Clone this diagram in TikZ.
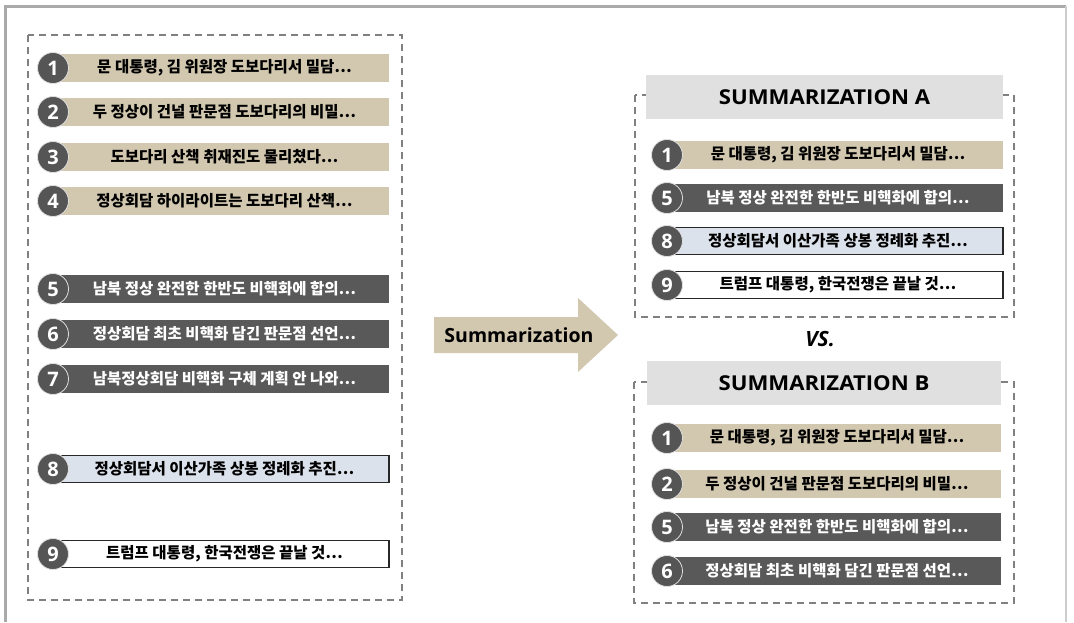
\documentclass[tikz,border=0pt]{standalone}
\usepackage{fontspec}
\setmainfont{Open Sans}
\newfontfamily\kr{Noto Sans CJK KR}
\newfontfamily\lat{Open Sans}
\newfontfamily\latw{Open Sans}[FakeStretch=1.08]
\definecolor{tan}{RGB}{210,199,175}
\definecolor{darkg}{RGB}{89,89,89}
\definecolor{lightblue}{RGB}{220,226,236}
\definecolor{headg}{RGB}{224,224,224}
\definecolor{numg}{RGB}{85,85,85}
\definecolor{dashg}{RGB}{128,128,128}
\definecolor{barline}{RGB}{40,40,40}
\definecolor{framea}{RGB}{170,170,170}
\definecolor{frameb}{RGB}{205,205,205}
\tikzset{
  bar/.style={minimum height=28pt, inner sep=0pt, font=\kr\bfseries\fontsize{15.5}{15.5}\selectfont},
  tanbar/.style={bar, fill=tan, text=black},
  darkbar/.style={bar, fill=darkg, text=white},
  bluebar/.style={bar, fill=lightblue, draw=barline, line width=1.3pt, minimum height=27pt},
  whitebar/.style={bar, fill=white, draw=barline, line width=1.3pt, minimum height=27pt},
  num/.style={circle, fill=numg, draw=white!88!black, line width=0.8pt, minimum size=31pt, inner sep=0pt, text=white, font=\lat\bfseries\fontsize{20}{20}\selectfont},
  dbox/.style={draw=dashg, dash pattern=on 7pt off 5pt, line width=1.4pt},
  header/.style={fill=headg, minimum height=44pt, inner sep=0pt, font=\latw\bfseries\fontsize{20.5}{20.5}\selectfont},
}
\newcommand\rowitem[8]{%
  \node[#6, minimum width={#4-#3}] (#1b) at ({(#3+#4)/2},#5) {#8};
  \node[num] (#1n) at (#2,#5) {#7};
}
\begin{document}
\begin{tikzpicture}[x=1pt,y=-1pt]
\useasboundingbox (0,0) rectangle (1074,622);
\fill[white] (0,0) rectangle (1074,622);
% outer frame
\draw[framea, line width=3pt] (5,622) -- (5,6) -- (1066,6);
\draw[frameb, line width=2pt] (1066,6) -- (1066,622);
% left dashed box
\draw[dbox] (28,35) rectangle (402,600);
\rowitem{l1}{53}{60}{389}{68}{tanbar}{1}{문 대통령, 김 위원장 도보다리서 밀담…}
\rowitem{l2}{53}{60}{389}{112}{tanbar}{2}{두 정상이 건널 판문점 도보다리의 비밀…}
\rowitem{l3}{53}{60}{389}{157}{tanbar}{3}{도보다리 산책 취재진도 물리쳤다…}
\rowitem{l4}{53}{60}{389}{201}{tanbar}{4}{정상회담 하이라이트는 도보다리 산책…}
\rowitem{l5}{53}{60}{389}{289}{darkbar}{5}{남북 정상 완전한 한반도 비핵화에 합의…}
\rowitem{l6}{53}{60}{389}{334}{darkbar}{6}{정상회담 최초 비핵화 담긴 판문점 선언…}
\rowitem{l7}{53}{60}{389}{379}{darkbar}{7}{남북정상회담 비핵화 구체 계획 안 나와…}
\rowitem{l8}{53}{60}{389}{469}{bluebar}{8}{정상회담서 이산가족 상봉 정례화 추진…}
\rowitem{l9}{53}{60}{389}{554}{whitebar}{9}{트럼프 대통령, 한국전쟁은 끝날 것…}
% arrow
\fill[tan] (434,317) -- (578,317) -- (578,298) -- (618,335) -- (578,372) -- (578,353) -- (434,353) -- cycle;
\node[font=\lat\bfseries\fontsize{19.5}{19.5}\selectfont, inner sep=0pt] (arr) at (519,335) {Summarization};
% summary A
\draw[dbox] (635,95) rectangle (1014,317);
\node[header, minimum width=357] (ha) at (824.5,97) {SUMMARIZATION A};
\rowitem{a1}{667}{673}{1003}{155}{tanbar}{1}{문 대통령, 김 위원장 도보다리서 밀담…}
\rowitem{a5}{667}{673}{1003}{198}{darkbar}{5}{남북 정상 완전한 한반도 비핵화에 합의…}
\rowitem{a8}{667}{673}{1003}{241}{bluebar}{8}{정상회담서 이산가족 상봉 정례화 추진…}
\rowitem{a9}{667}{673}{1003}{285}{whitebar}{9}{트럼프 대통령, 한국전쟁은 끝날 것…}
% vs
\node[font=\lat\bfseries\itshape\fontsize{21}{21}\selectfont, inner sep=0pt] (vs) at (820,339) {VS.};
% summary B
\draw[dbox] (634,382) rectangle (1014,603);
\node[header, minimum width=354] (hb) at (824,383) {SUMMARIZATION B};
\rowitem{b1}{667}{673}{1001}{438}{tanbar}{1}{문 대통령, 김 위원장 도보다리서 밀담…}
\rowitem{b2}{667}{673}{1001}{484}{tanbar}{2}{두 정상이 건널 판문점 도보다리의 비밀…}
\rowitem{b5}{667}{673}{1001}{527}{darkbar}{5}{남북 정상 완전한 한반도 비핵화에 합의…}
\rowitem{b6}{667}{673}{1001}{571}{darkbar}{6}{정상회담 최초 비핵화 담긴 판문점 선언…}
\end{tikzpicture}
\end{document}
